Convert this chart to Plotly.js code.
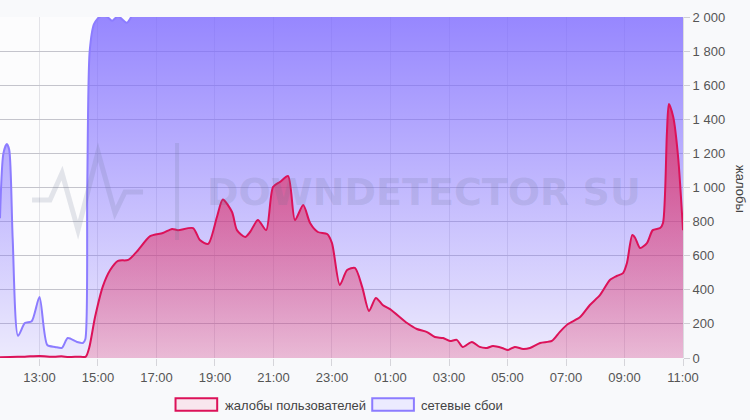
<!DOCTYPE html>
<html>
<head>
<meta charset="utf-8">
<script src="https://cdn.plot.ly/plotly-3.0.1.min.js"></script>
<style>
  html, body { margin: 0; padding: 0; background: #f8f9fb; }
  #chart { width: 750px; height: 420px; }
</style>
</head>
<body>
<div id="chart"></div>
<script>
// жалобы пользователей / сетевые сбои - downdetector style chart

const complaintTimes = ['11:39','12:00','12:30','13:00','13:30','13:45','14:00','14:20','14:35','14:42',
  '14:54','15:10','15:25','15:41','16:02','16:20','16:47','17:13','17:32','17:44',
  '18:15','18:29','18:46','19:04','19:16','19:35','19:45','20:02','20:12','20:28',
  '20:45','20:59','21:13','21:30','21:44','22:01','22:15','22:31','22:50','23:00',
  '23:16','23:31','23:47','00:02','00:16','00:30','00:44','00:59','01:34','01:54',
  '02:15','02:31','02:48','03:02','03:16','03:28','03:47','04:03','04:18','04:30',
  '04:49','05:01','05:15','05:32','05:46','06:07','06:31','06:47','07:04','07:29',
  '07:49','08:10','08:30','08:44','08:57','09:05','09:16','09:22','09:32','09:46',
  '09:58','10:13','10:19','10:27','10:31','10:40','10:50','11:00'];
const complaints = [5, 6, 8, 12, 7, 10, 6, 8, 8, 60,
  240, 420, 516, 570, 575, 625, 715, 733, 757, 750,
  762, 692, 669, 827, 930, 856, 750, 710, 739, 809,
  750, 1003, 1032, 1067, 809, 897, 792, 739, 727, 674,
  428, 516, 528, 416, 276, 352, 311, 287, 205, 170,
  152, 123, 117, 100, 106, 65, 94, 65, 59, 70,
  59, 47, 65, 53, 59, 88, 100, 152, 199, 240,
  311, 370, 457, 481, 498, 557, 721, 704, 645, 674,
  750, 762, 792, 1320, 1490, 1413, 1179, 750];

const outageTimes = ['11:39','11:46','11:53','11:58','12:05','12:16','12:30','12:44','13:00','13:16',
  '13:32','13:46','13:58','14:17','14:29','14:34','14:38','14:43','14:52','15:05',
  '15:18','15:29','15:41','15:59','16:10','16:30','18:00','20:00','22:00','00:00',
  '02:00','04:00','06:00','08:00','10:00','11:00'];
const outages = [820, 1200, 1255, 1220, 700, 130, 205, 215, 358, 76,
  65, 59, 117, 94, 88, 110, 1000, 1800, 1960, 2004,
  2003, 1978, 2005, 1966, 2010, 2150, 2200, 2200, 2200, 2200,
  2200, 2200, 2200, 2200, 2200, 2200];

const seriesNames = ['жалобы пользователей', 'сетевые сбои'];
const yTitle = 'жалобы';
const watermark = 'DOWNDETECTOR SU';

// 'HH:MM' -> datetime, next day once the clock wraps
function toDates(times){
  let day = 1, prev = -1;
  return times.map(t=>{
    const m = Number(t.slice(0,2))*60 + Number(t.slice(3,5));
    if(m < prev) day = 2;
    prev = m;
    return '2024-05-0' + day + ' ' + t;
  });
}

const font = 'Liberation Sans, Arial, sans-serif';

const traces = [
  {
    x: toDates(outageTimes), y: outages, name: seriesNames[1],
    type: 'scatter', mode: 'lines', showlegend: false,
    line: {color: '#8c7cff', width: 2, shape: 'spline', smoothing: 0.7},
    fill: 'tozeroy',
    fillgradient: {type: 'vertical', start: 0, stop: 2000,
      colorscale: [[0, 'rgba(122,102,255,0.12)'], [1, 'rgba(122,102,255,0.78)']]},
    hoverinfo: 'x+y'
  },
  {
    x: toDates(complaintTimes), y: complaints, name: seriesNames[0],
    type: 'scatter', mode: 'lines', showlegend: false,
    line: {color: '#dc1259', width: 2, shape: 'spline', smoothing: 0.7},
    fill: 'tozeroy',
    fillgradient: {type: 'vertical', start: 0, stop: 1500,
      colorscale: [[0, 'rgba(225,40,95,0.25)'], [1, 'rgba(225,40,95,0.78)']]},
    hoverinfo: 'x+y'
  }
];

const muted = 'rgba(100,110,140,0.17)';

const layout = {
  width: 750, height: 420,
  margin: {l: 0, r: 67, t: 17, b: 62},
  paper_bgcolor: '#f8f9fb',
  plot_bgcolor: '#fcfcfd',
  separators: ', ',
  font: {family: font, size: 13, color: '#555'},
  xaxis: {
    type: 'date',
    range: ['2024-05-01 11:39', '2024-05-02 11:00'],
    tick0: '2024-05-01 13:00', dtick: 7200000,
    tickformat: '%H:%M',
    showgrid: true, gridcolor: '#e3e3e8', gridwidth: 1,
    ticks: 'outside', ticklen: 7, tickcolor: '#d5d5da',
    showline: false, zeroline: false,
    tickfont: {size: 13, color: '#555'}
  },
  yaxis: {
    side: 'right',
    range: [0, 2000], dtick: 200,
    tickformat: ',d',
    showgrid: true, gridcolor: '#c4c4cc', gridwidth: 1,
    zeroline: false,
    showline: true, linecolor: '#dcdce0',
    ticks: 'outside', ticklen: 6, tickcolor: '#cfcfd4',
    tickfont: {size: 13, color: '#555'}
  },
  annotations: [
    {text: watermark, xref: 'paper', yref: 'paper', x: 0.621, y: 0.487,
     showarrow: false, font: {family: 'DejaVu Sans, sans-serif', size: 38, color: muted, weight: 'bold'}},
    {text: yTitle, xref: 'paper', yref: 'paper', x: 1.097, y: 0.496, textangle: 90,
     showarrow: false, font: {size: 13, color: '#444'}},
    {text: seriesNames[0], xref: 'paper', yref: 'paper', x: 0.3265, y: -0.138, xanchor: 'left', yanchor: 'middle',
     showarrow: false, font: {size: 13, color: '#444'}},
    {text: seriesNames[1], xref: 'paper', yref: 'paper', x: 0.613, y: -0.138, xanchor: 'left', yanchor: 'middle',
     showarrow: false, font: {size: 13, color: '#444'}}
  ],
  shapes: [
    // watermark logo
    {type: 'path', xref: 'paper', yref: 'paper',
     path: 'M0.0469,0.4633 L0.0732,0.4633 L0.0908,0.5425 L0.1142,0.3754 L0.1435,0.6041 L0.1684,0.4252 L0.1830,0.4868 L0.2094,0.4868',
     line: {color: muted, width: 5}},
    {type: 'line', xref: 'paper', yref: 'paper', x0: 0.2592, x1: 0.2592, y0: 0.346, y1: 0.6305,
     line: {color: muted, width: 4}},
    // legend swatches
    {type: 'rect', xref: 'paper', yref: 'paper', x0: 0.257, x1: 0.318, y0: -0.118, y1: -0.155,
     fillcolor: '#f8e6ee', line: {color: '#dc1259', width: 2}},
    {type: 'rect', xref: 'paper', yref: 'paper', x0: 0.545, x1: 0.606, y0: -0.118, y1: -0.155,
     fillcolor: '#ecebff', line: {color: '#8c7cff', width: 2}}
  ]
};

Plotly.newPlot('chart', traces, layout, {displayModeBar: false, staticPlot: true});
</script>
</body>
</html>
